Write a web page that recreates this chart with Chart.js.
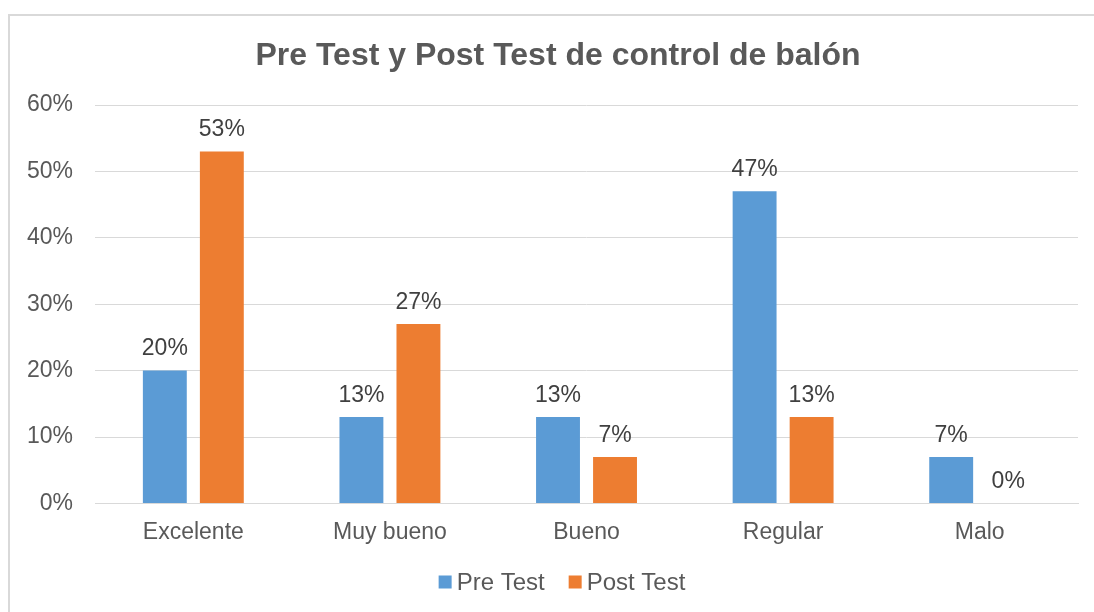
<!DOCTYPE html>
<html>
<head>
<meta charset="utf-8">
<script src="https://cdn.jsdelivr.net/npm/chart.js@4/dist/chart.umd.min.js"></script>
<style>
  html, body { margin: 0; padding: 0; background: #fff; }
  #frame {
    position: absolute; left: 8px; top: 14px; width: 1200px; height: 700px;
    border: 2px solid #d9d9d9; box-sizing: border-box;
  }
  #wrap { position: absolute; left: 0; top: 0; width: 1094px; height: 612px; }
</style>
</head>
<body>
<div id="frame"></div>
<div id="wrap"><canvas id="chart"></canvas></div>
<script>
const categories = ['Excelente', 'Muy bueno', 'Bueno', 'Regular', 'Malo'];
const preTest = [20, 13, 13, 47, 7];
const postTest = [53, 27, 7, 13, 0];
const seriesNames = ['Pre Test', 'Post Test'];
const chartTitle = 'Pre Test y Post Test de control de balón';

const FONT = "'Liberation Sans', Arial, sans-serif";
const FRAME_CENTER = 558; // the frame runs past the right edge of the window

// title sits centred on the frame, not on the canvas
const frameTitle = {
  id: 'frameTitle',
  afterDraw(chart) {
    const ctx = chart.ctx;
    ctx.save();
    ctx.font = 'bold 32px ' + FONT;
    ctx.fillStyle = '#595959';
    ctx.textAlign = 'center';
    ctx.textBaseline = 'middle';
    ctx.fillText(chartTitle, FRAME_CENTER, 56);
    ctx.restore();
  }
};

// Excel style legend: small square, narrow gap, centred under the frame
const frameLegend = {
  id: 'frameLegend',
  afterDraw(chart) {
    const ctx = chart.ctx;
    const box = 13, gap = 5, spacing = 24, y = 582;
    ctx.save();
    ctx.font = '24px ' + FONT;
    ctx.textBaseline = 'middle';
    ctx.textAlign = 'left';
    const items = chart.data.datasets.map(ds => ({
      text: ds.label, color: ds.backgroundColor, w: ctx.measureText(ds.label).width
    }));
    let total = items.reduce((s, it) => s + box + gap + it.w, 0) + spacing * (items.length - 1);
    let x = FRAME_CENTER + 4 - total / 2;
    items.forEach(it => {
      ctx.fillStyle = it.color;
      ctx.fillRect(x, y - box / 2, box, box);
      ctx.fillStyle = '#595959';
      ctx.fillText(it.text, x + box + gap, y + 1);
      x += box + gap + it.w + spacing;
    });
    ctx.restore();
  }
};

// draws the value above each bar
const valueLabels = {
  id: 'valueLabels',
  afterDatasetsDraw(chart) {
    const ctx = chart.ctx;
    ctx.save();
    ctx.font = '23px ' + FONT;
    ctx.fillStyle = '#404040';
    ctx.textAlign = 'center';
    ctx.textBaseline = 'bottom';
    chart.data.datasets.forEach((ds, i) => {
      chart.getDatasetMeta(i).data.forEach((bar, j) => {
        ctx.fillText(ds.data[j] + '%', bar.x, bar.y - 10);
      });
    });
    ctx.restore();
  }
};

new Chart(document.getElementById('chart'), {
  type: 'bar',
  data: {
    labels: categories,
    datasets: [
      { label: seriesNames[0], data: preTest, backgroundColor: '#5b9bd5' },
      { label: seriesNames[1], data: postTest, backgroundColor: '#ed7d31' }
    ]
  },
  options: {
    responsive: true,
    maintainAspectRatio: false,
    animation: false,
    categoryPercentage: 0.58,
    barPercentage: 0.77,
    layout: { padding: { left: 5, right: 16, top: 105, bottom: 59 } },
    plugins: {
      tooltip: { enabled: false },
      title: { display: false },
      legend: { display: false }
    },
    scales: {
      x: {
        grid: { display: false },
        border: { color: '#d9d9d9', width: 1 },
        ticks: { color: '#595959', font: { family: FONT, size: 23 }, padding: 7 }
      },
      y: {
        min: 0,
        max: 60,
        ticks: {
          stepSize: 10,
          color: '#595959',
          font: { family: FONT, size: 23 },
          padding: 22,
          callback: v => v + '%'
        },
        grid: { color: '#d9d9d9', lineWidth: 1, drawTicks: false },
        border: { display: false }
      }
    }
  },
  plugins: [valueLabels, frameTitle, frameLegend]
});
</script>
</body>
</html>
